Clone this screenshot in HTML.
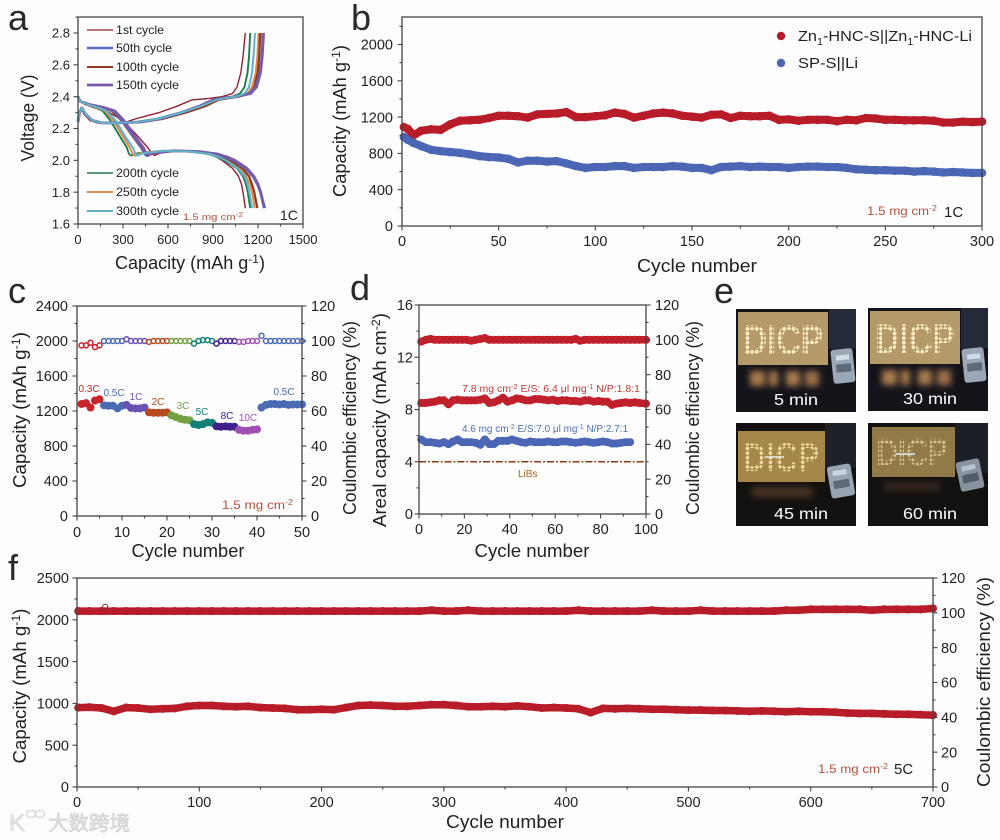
<!DOCTYPE html>
<html lang="en">
<head>
<meta charset="utf-8">
<title>Battery performance figure</title>
<style>
html,body{margin:0;padding:0;background:#fdfdfd;}
#figure{display:block;width:1000px;height:840px;font-family:"Liberation Sans","Noto Sans CJK SC",sans-serif;fill:#222;filter:blur(0.3px);}
.pl{font-size:36px;fill:#2a2a2a;}
.rm{fill:#b5503e;}
</style>
</head>
<body>
<svg id="figure" xmlns="http://www.w3.org/2000/svg" width="1000" height="840" viewBox="0 0 1000 840">
<defs>
<filter id="glow" x="-30%" y="-60%" width="160%" height="220%"><feGaussianBlur stdDeviation="3.2"/></filter>
<pattern id="leds-bright" width="4.6" height="4.6" patternUnits="userSpaceOnUse"><circle cx="2.3" cy="2.3" r="1.9" fill="#ffefc4"/></pattern>
<pattern id="leds-mid" width="4.6" height="4.6" patternUnits="userSpaceOnUse"><circle cx="2.3" cy="2.3" r="1.8" fill="#f2dca4"/></pattern>
<pattern id="leds-dim" width="4.4" height="4.4" patternUnits="userSpaceOnUse"><circle cx="2.2" cy="2.2" r="1.6" fill="#d8c48e"/></pattern>
</defs>
<rect width="1000" height="840" fill="#fdfdfd"/>

<!-- Panel a -->
<g id="panel-a">
<text class="pl" x="8" y="30">a</text>
<text x="190" y="269" text-anchor="middle" font-size="18" textLength="150" lengthAdjust="spacingAndGlyphs">Capacity (mAh g<tspan dy="-6" font-size="12">-1</tspan><tspan dy="6">)</tspan></text>
<text transform="translate(34,118) rotate(-90)" text-anchor="middle" font-size="18" textLength="87" lengthAdjust="spacingAndGlyphs">Voltage (V)</text>
<text class="rm" x="183" y="220" font-size="9.5" textLength="60" lengthAdjust="spacingAndGlyphs">1.5 mg cm<tspan dy="-3" font-size="7">-2</tspan></text>
<text x="280" y="220" font-size="14">1C</text>
</g>

<!-- Panel b -->
<g id="panel-b">
<text class="pl" x="351" y="30">b</text>
<text x="697" y="272" text-anchor="middle" font-size="18" textLength="120" lengthAdjust="spacingAndGlyphs">Cycle number</text>
<text transform="translate(346,121) rotate(-90)" text-anchor="middle" font-size="18" textLength="152" lengthAdjust="spacingAndGlyphs">Capacity (mAh g<tspan dy="-6" font-size="12">-1</tspan><tspan dy="6">)</tspan></text>
<circle cx="781" cy="36" r="4.2" fill="#b81c28"/>
<text x="798" y="41" font-size="15" textLength="174" lengthAdjust="spacingAndGlyphs">Zn<tspan dy="4" font-size="10">1</tspan><tspan dy="-4">-HNC-S||Zn</tspan><tspan dy="4" font-size="10">1</tspan><tspan dy="-4">-HNC-Li</tspan></text>
<circle cx="781" cy="63" r="4.2" fill="#4a66b4"/>
<text x="798" y="68" font-size="15" textLength="60" lengthAdjust="spacingAndGlyphs">SP-S||Li</text>
<text class="rm" x="867" y="215" font-size="12" textLength="70" lengthAdjust="spacingAndGlyphs">1.5 mg cm<tspan dy="-4" font-size="8">-2</tspan></text>
<text x="944" y="217" font-size="15">1C</text>
</g>

<!-- Panel c -->
<g id="panel-c">
<text class="pl" x="8" y="303">c</text>
<text x="188" y="557" text-anchor="middle" font-size="18" textLength="113" lengthAdjust="spacingAndGlyphs">Cycle number</text>
<text transform="translate(26,410) rotate(-90)" text-anchor="middle" font-size="18" textLength="156" lengthAdjust="spacingAndGlyphs">Capacity (mAh g<tspan dy="-6" font-size="12">-1</tspan><tspan dy="6">)</tspan></text>
<text transform="translate(356,418) rotate(-90)" text-anchor="middle" font-size="18" textLength="194" lengthAdjust="spacingAndGlyphs">Coulombic efficiency (%)</text>
<text class="rm" x="222" y="509" font-size="12" textLength="71" lengthAdjust="spacingAndGlyphs">1.5 mg cm<tspan dy="-4" font-size="8">-2</tspan></text>
</g>

<!-- Panel d -->
<g id="panel-d">
<text class="pl" x="350" y="300">d</text>
<text x="532" y="557" text-anchor="middle" font-size="18" textLength="115" lengthAdjust="spacingAndGlyphs">Cycle number</text>
<text transform="translate(386,420) rotate(-90)" text-anchor="middle" font-size="18" textLength="214" lengthAdjust="spacingAndGlyphs">Areal capacity (mAh cm<tspan dy="-6" font-size="12">-2</tspan><tspan dy="6">)</tspan></text>
<text transform="translate(699,418) rotate(-90)" text-anchor="middle" font-size="18" textLength="194" lengthAdjust="spacingAndGlyphs">Coulombic efficiency (%)</text>
<text x="462" y="392" font-size="10" style="fill:#c23a3a" textLength="178" lengthAdjust="spacingAndGlyphs">7.8 mg cm<tspan dy="-3" font-size="7">-2</tspan><tspan dy="3"> E/S: 6.4 μl mg</tspan><tspan dy="-3" font-size="7">-1</tspan><tspan dy="3"> N/P:1.8:1</tspan></text>
<text x="462" y="432" font-size="10" style="fill:#5070b4" textLength="166" lengthAdjust="spacingAndGlyphs">4.6 mg cm<tspan dy="-3" font-size="7">-2</tspan><tspan dy="3"> E/S:7.0 μl mg</tspan><tspan dy="-3" font-size="7">-1</tspan><tspan dy="3"> N/P:2.7:1</tspan></text>
<text x="518" y="477" font-size="10" style="fill:#b06020">LiBs</text>
</g>

<!-- Panel e -->
<g id="panel-e">
<text class="pl" x="714" y="303">e</text>

<g>
<rect x="736" y="309" width="120" height="103" fill="#14131a"/>
<rect x="829" y="309" width="27" height="40" fill="#242a38"/>
<rect x="738" y="312" width="90" height="53" fill="#b39a68"/>
<g filter="url(#glow)"><rect x="750" y="371" width="15" height="15" fill="#a87a4e"/><rect x="769" y="371" width="9" height="15" fill="#a87a4e"/><rect x="786" y="371" width="14" height="15" fill="#a87a4e"/><rect x="805" y="371" width="14" height="15" fill="#9c7048"/></g>
<text x="783" y="354" text-anchor="middle" font-size="42" font-weight="bold" textLength="80" lengthAdjust="spacingAndGlyphs" fill="url(#leds-bright)" style="fill:url(#leds-bright)">DICP</text>
<g><rect x="832" y="349" width="22" height="34" rx="3" fill="#9aa8b8" transform="rotate(-6 843 366)"/><rect x="837" y="355" width="13" height="5" fill="#d4dde6" transform="rotate(-6 843 366)"/><rect x="836" y="364" width="15" height="8" fill="#5f6a78" transform="rotate(-6 843 366)"/></g>
<text x="796" y="405" text-anchor="middle" font-size="15.5" style="fill:#fff" textLength="44" lengthAdjust="spacingAndGlyphs">5 min</text>
</g>

<g>
<rect x="868" y="308" width="120" height="103" fill="#14131a"/>
<rect x="961" y="308" width="27" height="40" fill="#242a38"/>
<rect x="870" y="311" width="90" height="53" fill="#b39a68"/>
<g filter="url(#glow)"><rect x="882" y="370" width="15" height="15" fill="#a87a4e"/><rect x="901" y="370" width="9" height="15" fill="#a87a4e"/><rect x="918" y="370" width="14" height="15" fill="#a87a4e"/><rect x="937" y="370" width="14" height="15" fill="#9c7048"/></g>
<text x="915" y="353" text-anchor="middle" font-size="42" font-weight="bold" textLength="80" lengthAdjust="spacingAndGlyphs" fill="url(#leds-bright)" style="fill:url(#leds-bright)">DICP</text>
<g><rect x="963" y="348" width="22" height="34" rx="3" fill="#9aa8b8" transform="rotate(-6 974 365)"/><rect x="968" y="354" width="13" height="5" fill="#d4dde6" transform="rotate(-6 974 365)"/><rect x="967" y="363" width="15" height="8" fill="#5f6a78" transform="rotate(-6 974 365)"/></g>
<text x="930" y="404" text-anchor="middle" font-size="15.5" style="fill:#fff" textLength="54" lengthAdjust="spacingAndGlyphs">30 min</text>
</g>

<g>
<rect x="736" y="423" width="120" height="103" fill="#12110f"/>
<rect x="825" y="423" width="31" height="45" fill="#1e2228"/>
<rect x="738" y="431" width="87" height="51" fill="#a5874a"/>
<g filter="url(#glow)"><rect x="752" y="487" width="60" height="10" fill="#4a3020"/></g>
<text x="781" y="471" text-anchor="middle" font-size="40" font-weight="bold" textLength="76" lengthAdjust="spacingAndGlyphs" fill="url(#leds-mid)" style="fill:url(#leds-mid)">DICP</text>
<line x1="765" y1="457" x2="784" y2="457" stroke="#e8e8e8" stroke-width="1.6"/>
<g><rect x="829" y="465" width="24" height="32" rx="3" fill="#98a4b2" transform="rotate(-10 841 481)"/><rect x="834" y="470" width="14" height="5" fill="#ccd6e0" transform="rotate(-10 841 481)"/><rect x="833" y="480" width="16" height="8" fill="#5f6a78" transform="rotate(-10 841 481)"/></g>
<text x="801" y="519" text-anchor="middle" font-size="15.5" style="fill:#fff" textLength="54" lengthAdjust="spacingAndGlyphs">45 min</text>
</g>

<g>
<rect x="868" y="423" width="120" height="103" fill="#11110f"/>
<rect x="955" y="423" width="33" height="50" fill="#1c2026"/>
<rect x="872" y="427" width="83" height="50" fill="#8f7a48"/>
<g filter="url(#glow)"><rect x="884" y="482" width="56" height="9" fill="#36261a"/></g>
<text x="912" y="465" text-anchor="middle" font-size="38" font-weight="bold" textLength="72" lengthAdjust="spacingAndGlyphs" fill="url(#leds-dim)" style="fill:url(#leds-dim)">DICP</text>
<line x1="896" y1="454" x2="915" y2="454" stroke="#d8dce0" stroke-width="1.8"/>
<g><rect x="958" y="460" width="24" height="30" rx="3" fill="#88939f" transform="rotate(-12 970 475)"/><rect x="963" y="465" width="14" height="5" fill="#b8c2cc" transform="rotate(-12 970 475)"/><rect x="962" y="474" width="16" height="8" fill="#525c68" transform="rotate(-12 970 475)"/></g>
<text x="930" y="519" text-anchor="middle" font-size="15.5" style="fill:#fff" textLength="54" lengthAdjust="spacingAndGlyphs">60 min</text>
</g>
</g>

<!-- Panel f -->
<g id="panel-f">
<text class="pl" x="8" y="580">f</text>
<text x="505" y="828" text-anchor="middle" font-size="18" textLength="118" lengthAdjust="spacingAndGlyphs">Cycle number</text>
<text transform="translate(26,686) rotate(-90)" text-anchor="middle" font-size="18" textLength="155" lengthAdjust="spacingAndGlyphs">Capacity (mAh g<tspan dy="-6" font-size="12">-1</tspan><tspan dy="6">)</tspan></text>
<text transform="translate(990,682) rotate(-90)" text-anchor="middle" font-size="18" textLength="210" lengthAdjust="spacingAndGlyphs">Coulombic efficiency (%)</text>
<text class="rm" x="818" y="773" font-size="12" textLength="70" lengthAdjust="spacingAndGlyphs">1.5 mg cm<tspan dy="-4" font-size="8">-2</tspan></text>
<text x="894" y="774" font-size="15">5C</text>
</g>

<!-- Watermark -->
<g>
<text x="9" y="831" font-size="24" style="fill:#e8e8e8;stroke:#cfcfcf;stroke-width:0.6">K</text>
<ellipse cx="31" cy="814" rx="4.5" ry="3.5" fill="none" stroke="#dcdcdc" stroke-width="1.6"/>
<ellipse cx="40" cy="814" rx="4.5" ry="3.5" fill="none" stroke="#dcdcdc" stroke-width="1.6"/>
<text x="48" y="830" font-size="20" style="fill:#e6e6e6;stroke:#c8c8c8;stroke-width:0.6;font-family:'Liberation Sans','Noto Sans CJK SC',sans-serif" textLength="82" lengthAdjust="spacingAndGlyphs">大数跨境</text>
</g>
</svg>

<script>
/* ---------- Panel a data ---------- */
const aXTicks = [0, 300, 600, 900, 1200, 1500];
const aYTicks = [1.6, 1.8, 2.0, 2.2, 2.4, 2.6, 2.8];
const aLegendNames = ['1st cycle', '50th cycle', '100th cycle', '150th cycle', '200th cycle', '250th cycle', '300th cycle'];
const dischargeVoltage = [2.40,2.37,2.35,2.33,2.31,2.25,2.15,2.08,2.04,2.03,2.045,2.06,2.055,2.04,2.02,2.00,1.95,1.90,1.85,1.80,1.75,1.70];
const chargeVoltage = [2.24,2.30,2.33,2.29,2.25,2.235,2.235,2.24,2.26,2.30,2.34,2.38,2.39,2.40,2.42,2.46,2.55,2.65,2.80];
const discharge1st = [0,10,50,110,190,300,400,465,495,510,545,620,760,880,925,960,1030,1070,1090,1100,1108,1115];
const discharge50th = [0,15,75,175,235,295,370,425,445,455,485,630,800,920,985,1035,1115,1165,1195,1215,1228,1240];
const discharge100th = [0,15,75,165,225,290,365,420,445,460,490,620,790,900,965,1015,1095,1140,1160,1175,1185,1195];
const discharge150th = [0,15,80,180,245,305,380,435,455,465,495,640,810,930,995,1045,1125,1172,1200,1218,1230,1245];
const discharge200th = [0,15,60,120,165,215,280,325,340,355,400,560,740,870,930,975,1060,1100,1120,1132,1140,1148];
const discharge250th = [0,15,65,130,180,235,300,345,365,380,420,570,760,890,950,1000,1080,1120,1145,1160,1170,1178];
const discharge300th = [0,15,70,140,190,250,315,365,385,395,435,580,750,880,940,985,1065,1110,1130,1142,1152,1160];
const charge1st = [0,8,20,40,80,130,220,320,380,540,660,760,880,960,1030,1060,1085,1100,1115];
const charge50th = [0,10,25,50,95,160,250,400,540,690,810,900,960,1040,1140,1185,1212,1225,1233];
const charge100th = [0,10,25,50,95,160,250,420,560,720,850,935,1000,1070,1145,1175,1198,1208,1215];
const charge150th = [0,10,25,50,95,160,250,400,540,690,810,900,960,1050,1150,1190,1216,1228,1237];
const charge200th = [0,10,25,50,95,160,250,380,520,680,810,910,970,1030,1080,1110,1130,1140,1148];
const charge250th = [0,10,25,50,95,160,250,410,550,710,840,930,990,1060,1130,1160,1185,1196,1204];
const charge300th = [0,10,25,50,95,160,250,390,530,690,820,920,980,1050,1110,1140,1160,1170,1180];

/* ---------- Panel b data ---------- */
const bXTicks = [0, 50, 100, 150, 200, 250, 300];
const bYTicks = [0, 400, 800, 1200, 1600, 2000];
const bCycles = [1,3,6,10,15,20,25,30,35,40,45,50,55,60,65,70,75,80,85,90,95,100,105,110,115,120,125,130,135,140,145,150,155,160,165,170,175,180,185,190,195,200,205,210,215,220,225,230,235,240,245,250,255,260,265,270,275,280,285,290,295,300];
const bZnCapacity = [1090,1070,1000,1050,1065,1060,1120,1160,1165,1170,1190,1215,1215,1210,1195,1230,1235,1240,1255,1200,1200,1210,1220,1250,1235,1195,1215,1240,1250,1240,1215,1205,1195,1225,1230,1190,1215,1210,1210,1215,1170,1175,1160,1170,1170,1170,1155,1170,1165,1190,1185,1170,1170,1165,1165,1165,1160,1140,1140,1150,1145,1150];
const bSpCapacity = [980,950,915,880,840,825,815,805,790,770,760,755,740,700,720,720,710,715,690,660,640,650,650,660,660,640,650,650,650,660,655,640,640,615,650,655,660,650,655,650,650,640,650,655,655,650,650,640,625,620,615,615,610,610,600,605,600,590,595,590,585,585];

/* ---------- Panel c data ---------- */
const cXTicks = [0, 10, 20, 30, 40, 50];
const cYTicks = [0, 400, 800, 1200, 1600, 2000, 2400];
const cRightTicks = [0, 20, 40, 60, 80, 100, 120];
const cCapacity = [1280,1290,1240,1320,1335,1265,1260,1260,1230,1260,1270,1235,1230,1230,1240,1185,1180,1180,1180,1185,1150,1130,1110,1100,1095,1050,1040,1050,1070,1065,1025,1020,1025,1020,1020,985,975,975,985,990,1240,1270,1280,1280,1275,1280,1270,1275,1275,1275];
const cEfficiency = [97.5,97.5,99,96.5,97.5,100,100,100,100,100,101,100,100,100,100,99.5,100,100,100,100,100,100,100,100,100,98.5,100,100.5,100.5,100,98.5,100,100,100,100,99.5,99.5,100,100,100,103,100,100,100,100,100,100,100,100,100];
const cRateNames = ['0.3C','0.5C','1C','2C','3C','5C','8C','10C','0.5C'];
const cRateFirstCycle = [1, 6, 11, 16, 21, 26, 31, 36, 41];

/* ---------- Panel d data ---------- */
const dXTicks = [0, 20, 40, 60, 80, 100];
const dYTicks = [0, 4, 8, 12, 16];
const dRightTicks = [0, 20, 40, 60, 80, 100, 120];
const dHighCycles = [1,3,5,7,9,11,13,15,17,19,21,23,25,27,29,31,33,35,37,39,41,43,45,47,49,51,53,55,57,59,61,63,65,67,69,71,73,75,77,79,81,83,85,87,89,91,93,95,97,100];
const dHighCapacity = [8.5,8.5,8.55,8.6,8.7,8.7,8.4,8.7,8.75,8.7,8.7,8.7,8.7,8.75,8.85,8.5,8.55,8.7,8.9,8.6,8.7,8.85,8.8,8.7,8.7,8.8,8.8,8.75,8.7,8.75,8.65,8.7,8.7,8.65,8.65,8.6,8.7,8.7,8.6,8.65,8.6,8.6,8.35,8.45,8.5,8.55,8.5,8.55,8.5,8.45];
const dHighEfficiency = [99,100,100.5,100,100,100,100,100,100,100,100,99.5,100,100.5,101,100,100,100,100,100,100,100,100,100,100,100,100,100,100,100,100,100,100,100,100.5,99.5,100,100,100,100,100,100,100,100,100,100,100,100,100,100];
const dLowCycles = [1,3,5,7,9,11,13,15,17,19,21,23,25,27,29,31,33,35,37,39,41,43,45,47,49,51,53,55,57,59,61,63,65,67,69,71,73,75,77,79,81,83,85,87,89,91,93];
const dLowCapacity = [5.7,5.5,5.5,5.45,5.4,5.5,5.35,5.55,5.7,5.5,5.5,5.5,5.45,5.3,5.7,5.35,5.35,5.6,5.6,5.6,5.7,5.6,5.5,5.45,5.55,5.5,5.5,5.5,5.55,5.5,5.5,5.55,5.55,5.5,5.45,5.5,5.55,5.5,5.45,5.5,5.55,5.5,5.4,5.4,5.45,5.5,5.5];

/* ---------- Panel f data ---------- */
const fXTicks = [0, 100, 200, 300, 400, 500, 600, 700];
const fYTicks = [0, 500, 1000, 1500, 2000, 2500];
const fRightTicks = [0, 20, 40, 60, 80, 100, 120];
const fCycles = [1,10,20,30,40,50,60,70,80,90,100,110,120,130,140,150,160,170,180,190,200,210,220,230,240,250,260,270,280,290,300,310,320,330,340,350,360,370,380,390,400,410,420,430,440,450,460,470,480,490,500,510,520,530,540,550,560,570,580,590,600,610,620,630,640,650,660,670,680,690,700];
const fCapacity = [950,955,945,905,950,945,930,935,940,965,975,975,965,960,965,950,945,940,925,925,930,925,950,975,980,975,965,965,975,985,985,975,960,960,965,960,970,960,945,950,945,935,890,940,935,940,935,930,930,925,920,920,915,915,910,905,910,905,900,905,900,900,895,885,880,880,875,870,870,865,860];
const fEfficiency = [101,101,101,101,101,101,101,101,101,101,101,101,101,101,101,101,101,101,101,101,101,101,101,101,101,101,101,101,101,101.5,101,101,101.5,101,101,101,101,101,101,101,101,101.5,101,101,101,101,101,101.5,101,101,101,101.5,101,101,101,101,101,101,101.5,101.5,102,102,102,102,102,101.5,102,102,102,102,102.5];
const fOutlierCycles = [23];
const fOutlierEfficiency = [103.5];

/* ---------- Helpers ---------- */
const NS = 'http://www.w3.org/2000/svg';
function scale(d0, d1, r0, r1) { return v => r0 + (v - d0) * (r1 - r0) / (d1 - d0); }
function make(parent, tag, props, name) {
  const el = document.createElementNS(NS, tag);
  for (const k in props) el.setAttribute(k, props[k]);
  
  
  parent.appendChild(el);
  return el;
}
const AXC = '#454545';
function makeLabel(g, x, y, str, anchor, size, name) {
  const t = make(g, 'text', {x: x, y: y, 'text-anchor': anchor, 'font-size': size}, name);
  t.textContent = str;
  return t;
}
function tickLine(g, x1, y1, x2, y2, name) {
  make(g, 'line', {x1: x1, y1: y1, x2: x2, y2: y2, stroke: AXC, 'stroke-width': 1.1}, name);
}
function minorsOf(ticks, limit) {
  const out = [];
  for (let i = 0; i < ticks.length - 1; i++) out.push((ticks[i] + ticks[i + 1]) / 2);
  const step = ticks[1] - ticks[0], extra = ticks[ticks.length - 1] + step / 2;
  if (extra <= limit) out.push(extra);
  return out;
}
function drawAxes(g, o) {
  const ax = make(g, 'g', {}, o.id + '-axes');
  make(ax, 'rect', {x: o.left, y: o.top, width: o.right - o.left, height: o.bottom - o.top, fill: 'none', stroke: AXC, 'stroke-width': 1.3}, o.id + '-plot-frame');
  o.xTicks.forEach(v => {
    const x = o.x(v);
    tickLine(ax, x, o.bottom, x, o.bottom + 4.5, o.id + '-x-tick');
    makeLabel(ax, x, o.xLabelY, String(v), 'middle', o.fs, o.id + '-x-tick-label');
  });
  minorsOf(o.xTicks, o.xMax).forEach(v => tickLine(ax, o.x(v), o.bottom, o.x(v), o.bottom + 2.5, o.id + '-x-minor-tick'));
  o.yTicks.forEach(v => {
    const y = o.y(v);
    tickLine(ax, o.left - 4.5, y, o.left, y, o.id + '-y-tick');
    makeLabel(ax, o.yLabelX, y + o.fs * 0.36, o.fmt ? o.fmt(v) : String(v), 'end', o.fs, o.id + '-y-tick-label');
  });
  minorsOf(o.yTicks, o.yMax).forEach(v => tickLine(ax, o.left - 2.5, o.y(v), o.left, o.y(v), o.id + '-y-minor-tick'));
  if (o.rTicks) {
    o.rTicks.forEach(v => {
      const y = o.r(v);
      tickLine(ax, o.right, y, o.right + 4.5, y, o.id + '-right-tick');
      makeLabel(ax, o.rLabelX, y + o.fs * 0.36, String(v), 'start', o.fs, o.id + '-right-tick-label');
    });
    minorsOf(o.rTicks, 120).forEach(v => tickLine(ax, o.right, o.r(v), o.right + 2.5, o.r(v), o.id + '-right-minor-tick'));
  }
}
function pathFrom(xs, ys, fx, fy) {
  return xs.map((v, i) => (i ? 'L' : 'M') + fx(v).toFixed(1) + ' ' + fy(ys[i]).toFixed(1)).join('');
}
function band(g, xs, ys, fx, fy, color, w, name) {
  make(g, 'path', {d: pathFrom(xs, ys, fx, fy), fill: 'none', stroke: color, 'stroke-width': w, 'stroke-linejoin': 'round', 'stroke-linecap': 'butt'}, name + '-line');
  xs.forEach((v, i) => make(g, 'circle', {cx: fx(v), cy: fy(ys[i]), r: w / 2 + 0.3, fill: color}, name + '-point'));
}

/* ---------- Panel a ---------- */
(function () {
  const g = document.getElementById('panel-a');
  const x = scale(0, 1500, 78, 303), y = scale(1.6, 2.8, 224, 33);
  const series = [
    [discharge1st, charge1st, '#8e2230', 1.4, 'cycle-1'],
    [discharge200th, charge200th, '#1f7a4f', 1.9, 'cycle-200'],
    [discharge250th, charge250th, '#e08a50', 2.1, 'cycle-250'],
    [discharge100th, charge100th, '#8f3a20', 2.2, 'cycle-100'],
    [discharge50th, charge50th, '#5470b8', 2.5, 'cycle-50'],
    [discharge150th, charge150th, '#7a5aa8', 2.8, 'cycle-150'],
    [discharge300th, charge300th, '#62b2c8', 2.0, 'cycle-300']
  ];
  const legendColors = ['#8e2230', '#5470b8', '#8f3a20', '#7a5aa8', '#1f7a4f', '#e08a50', '#62b2c8'];
  const legendWidths = [1.2, 2.4, 2, 2.8, 1.6, 2, 2];
  const legendY = [30, 48, 67, 85, 173, 192, 211];
  const legendLengths = [48, 56, 63, 63, 63, 63, 63];
  series.forEach(s => {
    make(g, 'path', {d: pathFrom(s[0], dischargeVoltage, x, y), fill: 'none', stroke: s[2], 'stroke-width': s[3], 'stroke-linejoin': 'round'}, s[4] + '-discharge-curve');
    make(g, 'path', {d: pathFrom(s[1], chargeVoltage, x, y), fill: 'none', stroke: s[2], 'stroke-width': s[3], 'stroke-linejoin': 'round'}, s[4] + '-charge-curve');
  });
  aLegendNames.forEach((n, i) => {
    make(g, 'line', {x1: 87, x2: 113, y1: legendY[i], y2: legendY[i], stroke: legendColors[i], 'stroke-width': legendWidths[i]}, 'legend-line');
    const t = makeLabel(g, 116, legendY[i] + 4, n, 'start', 12, 'legend-entry');
    t.setAttribute('textLength', legendLengths[i]);
    t.setAttribute('lengthAdjust', 'spacingAndGlyphs');
  });
  drawAxes(g, {id: 'panel-a', left: 78, right: 303, top: 17, bottom: 224, x: x, y: y, xTicks: aXTicks, yTicks: aYTicks, xMax: 1500, yMax: 2.9, xLabelY: 244, yLabelX: 70, fs: 13, fmt: v => v.toFixed(1)});
})();

/* ---------- Panel b ---------- */
(function () {
  const g = document.getElementById('panel-b');
  const x = scale(0, 300, 402, 982), y = scale(0, 2000, 226, 44.5);
  band(g, bCycles, bZnCapacity, x, y, '#b81c28', 8, 'zn-hnc-capacity');
  band(g, bCycles, bSpCapacity, x, y, '#4a66b4', 8, 'sp-s-capacity');
  drawAxes(g, {id: 'panel-b', left: 402, right: 982, top: 17, bottom: 226, x: x, y: y, xTicks: bXTicks, yTicks: bYTicks, xMax: 300, yMax: 2300, xLabelY: 246, yLabelX: 393, fs: 14.5});
})();

/* ---------- Panel c ---------- */
(function () {
  const g = document.getElementById('panel-c');
  const x = scale(0, 50, 77, 302), y = scale(0, 2400, 516, 306), r = scale(0, 120, 516, 306);
  const rateColors = ['#c8242c', '#4a6ab4', '#6a50b0', '#b84a20', '#70a040', '#108078', '#40208a', '#a050b0', '#4a6ab4'];
  const labelX = [89, 114, 136, 158, 183, 202, 227, 248, 284];
  const labelY = [392, 396, 400, 405, 409, 415, 419, 421, 395];
  cRateNames.forEach((n, i) => {
    const t = makeLabel(g, labelX[i], labelY[i], n, 'middle', 10, 'rate-label');
    t.setAttribute('style', 'fill:' + rateColors[i]);
  });
  function colorOf(c) {
    let idx = 0;
    cRateFirstCycle.forEach((f, i) => { if (c >= f) idx = i; });
    return rateColors[idx];
  }
  cCapacity.forEach((v, i) => {
    make(g, 'circle', {cx: x(i + 1), cy: y(v), r: 4, fill: colorOf(i + 1)}, 'capacity-point');
  });
  cEfficiency.forEach((v, i) => {
    make(g, 'circle', {cx: x(i + 1), cy: r(v), r: 2.5, fill: 'none', stroke: colorOf(i + 1), 'stroke-width': 1.5}, 'efficiency-point');
  });
  drawAxes(g, {id: 'panel-c', left: 77, right: 302, top: 306, bottom: 516, x: x, y: y, r: r, xTicks: cXTicks, yTicks: cYTicks, rTicks: cRightTicks, xMax: 50, yMax: 2400, xLabelY: 537, yLabelX: 68, rLabelX: 311, fs: 14.5});
})();

/* ---------- Panel d ---------- */
(function () {
  const g = document.getElementById('panel-d');
  const x = scale(0, 100, 419, 646), y = scale(0, 16, 514, 305), r = scale(0, 120, 514, 305);
  make(g, 'line', {x1: x(0), x2: x(100), y1: y(4), y2: y(4), stroke: '#8a3a10', 'stroke-width': 1.5, 'stroke-dasharray': '7 2 1.8 2'}, 'libs-reference-line');
  band(g, dHighCycles, dHighEfficiency, x, r, '#c0202c', 7.5, 'high-loading-efficiency');
  band(g, dHighCycles, dHighCapacity, x, y, '#c0202c', 7.5, 'high-loading-capacity');
  band(g, dLowCycles, dLowCapacity, x, y, '#4a66b4', 7.5, 'low-loading-capacity');
  drawAxes(g, {id: 'panel-d', left: 419, right: 646, top: 305, bottom: 514, x: x, y: y, r: r, xTicks: dXTicks, yTicks: dYTicks, rTicks: dRightTicks, xMax: 100, yMax: 16, xLabelY: 534, yLabelX: 413, rLabelX: 655, fs: 14.5});
})();

/* ---------- Panel f ---------- */
(function () {
  const g = document.getElementById('panel-f');
  const x = scale(0, 700, 77, 933), y = scale(0, 2500, 787, 578), r = scale(0, 120, 787, 578);
  band(g, fCycles, fEfficiency, x, r, '#b81c28', 7.5, 'efficiency');
  band(g, fCycles, fCapacity, x, y, '#b81c28', 7.5, 'capacity');
  fOutlierCycles.forEach((c, i) => {
    make(g, 'circle', {cx: x(c), cy: r(fOutlierEfficiency[i]), r: 2.5, fill: 'none', stroke: '#7a2a2a', 'stroke-width': 1}, 'efficiency-outlier');
  });
  drawAxes(g, {id: 'panel-f', left: 77, right: 933, top: 578, bottom: 787, x: x, y: y, r: r, xTicks: fXTicks, yTicks: fYTicks, rTicks: fRightTicks, xMax: 700, yMax: 2500, xLabelY: 807, yLabelX: 69, rLabelX: 941, fs: 14.5});
})();
</script>
</body>
</html>
